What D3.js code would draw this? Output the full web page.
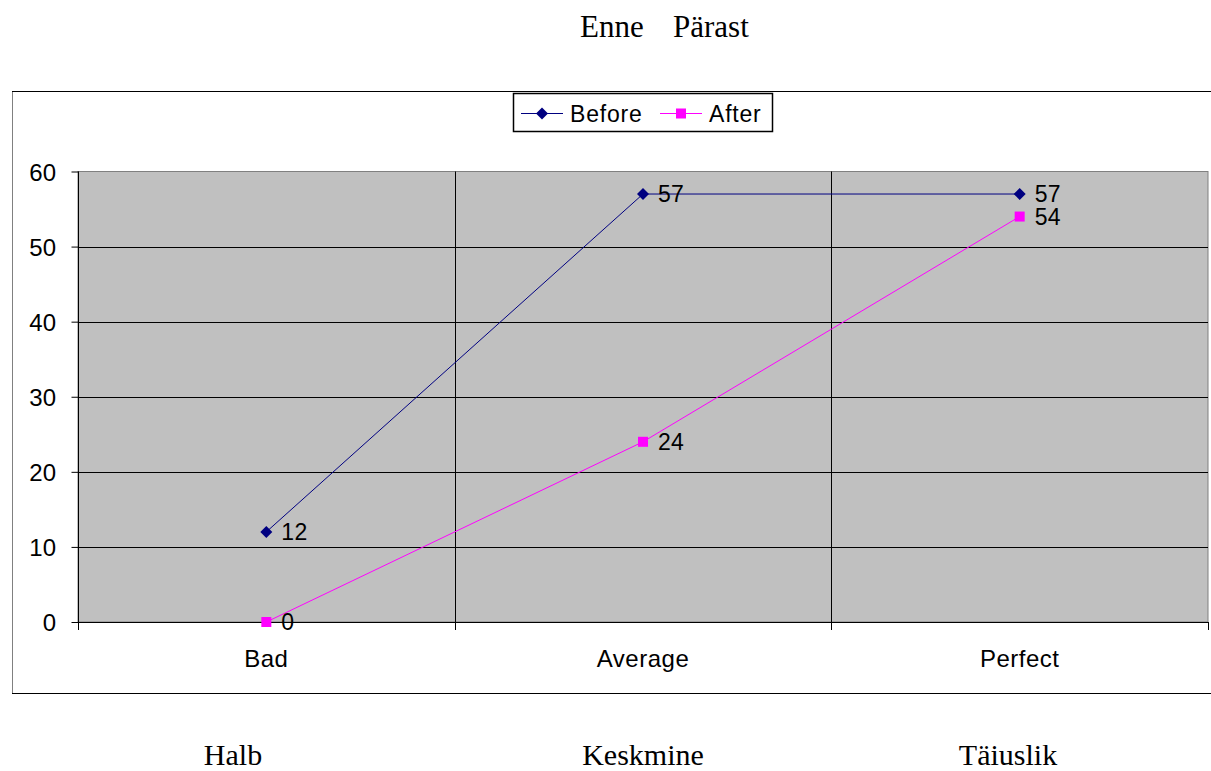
<!DOCTYPE html>
<html><head><meta charset="utf-8">
<script src="https://cdn.jsdelivr.net/npm/d3@7"></script>
<style>body{margin:0;background:#fff}svg{display:block}</style>
</head><body>
<svg id="c" width="1211" height="771"></svg>
<script>
const categories = ["Bad", "Average", "Perfect"];
const estonianLabels = ["Halb", "Keskmine", "Täiuslik"];
const beforeValues = [12, 57, 57];
const afterValues = [0, 24, 54];
const yTicks = [0, 10, 20, 30, 40, 50, 60];
const seriesNames = ["Before", "After"];
const titleWords = ["Enne", "Pärast"];

const svg = d3.select("#c");
const L = 78, R = 1208, T = 171.5, B = 622;
const sans = "Arial, 'Liberation Sans', sans-serif";

// outer frame
svg.append("line").attr("x1", 12.5).attr("x2", 12.5).attr("y1", 91.5).attr("y2", 693).attr("stroke", "#808080");
svg.append("line").attr("x1", 12).attr("x2", 1211).attr("y1", 91.5).attr("y2", 91.5).attr("stroke", "#000");
svg.append("line").attr("x1", 12).attr("x2", 1211).attr("y1", 693.5).attr("y2", 693.5).attr("stroke", "#000");

const x = d3.scaleBand().domain(categories).range([L, R]).padding(0);
const y = d3.scaleLinear().domain([0, 60]).range([B, T]);

// plot area
svg.append("rect").attr("x", L).attr("y", T).attr("width", R - L).attr("height", B - T)
  .attr("fill", "#c0c0c0").attr("stroke", "#808080");

// horizontal gridlines
svg.append("g").selectAll("line").data(yTicks.filter(d => d > 0 && d < 60)).join("line")
  .attr("x1", L).attr("x2", R).attr("y1", d => Math.round(y(d)) + 0.5).attr("y2", d => Math.round(y(d)) + 0.5)
  .attr("stroke", "#000");
// vertical gridlines at category boundaries
svg.append("g").selectAll("line").data(categories.slice(1)).join("line")
  .attr("x1", d => Math.round(x(d)) + 0.5).attr("x2", d => Math.round(x(d)) + 0.5)
  .attr("y1", T).attr("y2", B).attr("stroke", "#000");

// y axis
const yAxis = d3.axisLeft(y).tickValues(yTicks).tickSize(7).tickPadding(15);
const gy = svg.append("g").attr("transform", `translate(${L + 0.5},0)`).call(yAxis);
gy.select(".domain").attr("d", `M0,${T}V${B + 8}`).attr("stroke", "#000");
gy.selectAll(".tick line").attr("stroke", "#000");
gy.selectAll(".tick text").attr("font-family", sans).style("font-size", "24px")
  .attr("letter-spacing", 0.3).attr("fill", "#000").attr("dy", "0.36em");

// x axis
const xAxis = d3.axisBottom(x).tickSize(0).tickPadding(30);
const gx = svg.append("g").attr("transform", `translate(0,${B + 0.5})`).call(xAxis);
gx.select(".domain").attr("d", `M${L},0H${R}`).attr("stroke", "#000");
gx.selectAll(".tick text").attr("font-family", sans).style("font-size", "24px")
  .attr("letter-spacing", 0.5).attr("fill", "#000").attr("dy", "0.36em").attr("y", 36);
// x tick marks at boundaries
svg.append("g").selectAll("line").data([L, ...categories.slice(1).map(c => x(c)), R]).join("line")
  .attr("x1", d => Math.round(d) + 0.5).attr("x2", d => Math.round(d) + 0.5)
  .attr("y1", B).attr("y2", B + 8).attr("stroke", "#000");

const cx = c => x(c) + x.bandwidth() / 2;
const line = d3.line().x((d, i) => cx(categories[i])).y(d => y(d));

const series = [
  {name: seriesNames[0], values: beforeValues, color: "#000080", marker: "diamond"},
  {name: seriesNames[1], values: afterValues, color: "#ff00ff", marker: "square"}
];

function drawMarker(g, type, color) {
  if (type === "diamond") {
    g.append("path").attr("d", "M0,-6L6,0L0,6L-6,0Z").attr("fill", color);
  } else {
    g.append("rect").attr("x", -5).attr("y", -5).attr("width", 10).attr("height", 10).attr("fill", color);
  }
}

series.forEach(s => {
  svg.append("path").datum(s.values).attr("d", line).attr("fill", "none")
    .attr("stroke", s.color).attr("stroke-width", 1);
});
series.forEach(s => {
  s.values.forEach((v, i) => {
    const g = svg.append("g").attr("transform", `translate(${cx(categories[i])},${y(v)})`);
    drawMarker(g, s.marker, s.color);
  });
});
series.forEach(s => {
  s.values.forEach((v, i) => {
    svg.append("text").attr("x", cx(categories[i]) + 15).attr("y", y(v)).attr("dy", "0.36em")
      .attr("font-family", sans).style("font-size", "23px").attr("letter-spacing", 0.3)
      .attr("fill", "#000").text(v);
  });
});

// legend
const lg = svg.append("g");
lg.append("rect").attr("x", 513.5).attr("y", 93.5).attr("width", 259).attr("height", 38)
  .attr("fill", "#fff").attr("stroke", "#000").attr("stroke-width", 1.5);
const legendItems = [{s: series[0], x0: 521, tx: 570}, {s: series[1], x0: 660, tx: 709}];
legendItems.forEach(it => {
  lg.append("line").attr("x1", it.x0).attr("x2", it.x0 + 42).attr("y1", 113.5).attr("y2", 113.5)
    .attr("stroke", it.s.color);
  const m = lg.append("g").attr("transform", `translate(${it.x0 + 21},113.5)`);
  drawMarker(m, it.s.marker, it.s.color);
  lg.append("text").attr("x", it.tx).attr("y", 113.5).attr("dy", "0.36em")
    .attr("font-family", sans).style("font-size", "23px").attr("letter-spacing", 0.8)
    .attr("fill", "#000").text(it.s.name);
});

// top title words
const serif = "'Times New Roman', 'Liberation Serif', serif";
svg.append("text").attr("x", 580).attr("y", 37).attr("font-family", serif).style("font-size", "31px")
  .attr("fill", "#000").text(titleWords[0]);
svg.append("text").attr("x", 673).attr("y", 37).attr("font-family", serif).style("font-size", "31px")
  .attr("fill", "#000").text(titleWords[1]);

// bottom Estonian labels
const bottomX = [233, 643, 1008];
svg.append("g").selectAll("text").data(estonianLabels).join("text")
  .attr("x", (d, i) => bottomX[i]).attr("y", 765).attr("text-anchor", "middle")
  .attr("font-family", serif).style("font-size", "30px").attr("fill", "#000").text(d => d);
</script>
</body></html>
